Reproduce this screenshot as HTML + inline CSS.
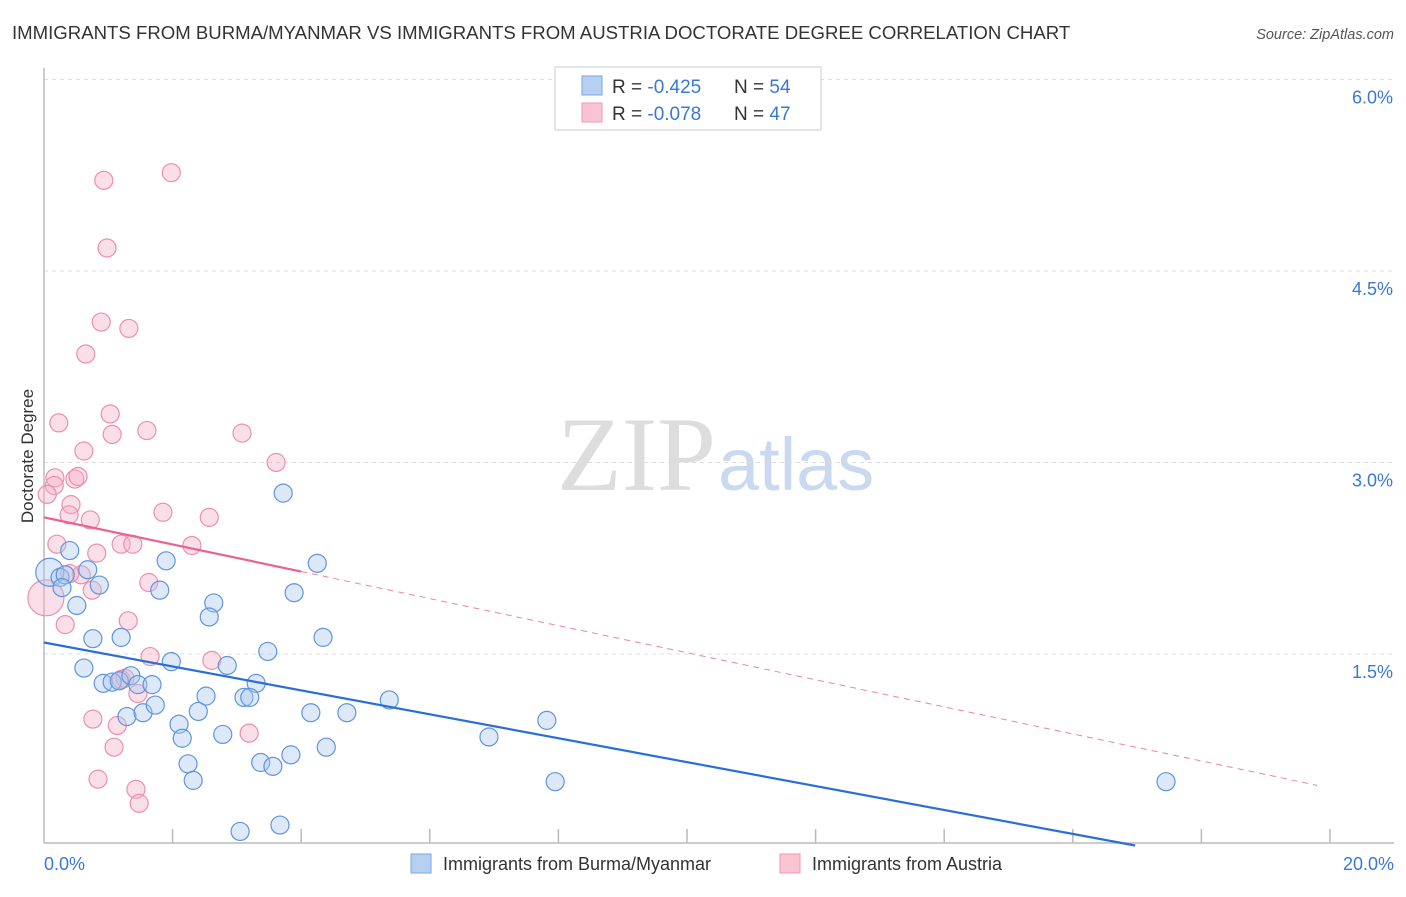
<!DOCTYPE html>
<html><head><meta charset="utf-8"><style>
body{margin:0;background:#fff;font-family:"Liberation Sans",sans-serif}
</style></head><body>
<svg width="1406" height="892" xmlns="http://www.w3.org/2000/svg">
<text x="12" y="39" font-size="18.6" fill="#333">IMMIGRANTS FROM BURMA/MYANMAR VS IMMIGRANTS FROM AUSTRIA DOCTORATE DEGREE CORRELATION CHART</text>
<text x="1394" y="39" font-size="14.5" fill="#555" font-style="italic" text-anchor="end">Source: ZipAtlas.com</text>
<text x="716" y="490" font-size="106" fill="#ddd" font-family="Liberation Serif" text-anchor="end">ZIP</text>
<text x="718" y="490" font-size="74" fill="#c9d9ef">atlas</text>
<g id="grid"></g>
<line x1="44" y1="68" x2="44" y2="843" stroke="#bbb" stroke-width="1.5"/>
<line x1="44" y1="843" x2="1394" y2="843" stroke="#bbb" stroke-width="1.5"/>
<g id="ticks"></g>
<text transform="translate(33,456) rotate(-90)" font-size="17" fill="#333" text-anchor="middle">Doctorate Degree</text>
<g id="pts"></g>
<g id="lines"></g>
<g>
<rect x="555" y="67" width="266" height="63" fill="#fff" stroke="#ccc"/>
<rect x="582" y="76" width="20" height="19" fill="#b5d0f3" stroke="#7aa7e2"/>
<rect x="582" y="103" width="20" height="19" fill="#f9c3d3" stroke="#ec9ab5"/>
<text x="612" y="93" font-size="19" fill="#333">R = <tspan fill="#3a78d4">-0.425</tspan></text>
<text x="734" y="93" font-size="19" fill="#333">N = <tspan fill="#3a78d4">54</tspan></text>
<text x="612" y="120" font-size="19" fill="#333">R = <tspan fill="#3a78d4">-0.078</tspan></text>
<text x="734" y="120" font-size="19" fill="#333">N = <tspan fill="#3a78d4">47</tspan></text>
</g>
<g>
<rect x="411" y="854" width="20" height="19" fill="#b5d0f3" stroke="#7aa7e2"/>
<text x="443" y="870" font-size="18" fill="#333">Immigrants from Burma/Myanmar</text>
<rect x="780" y="854" width="20" height="19" fill="#f9c3d3" stroke="#ec9ab5"/>
<text x="812" y="870" font-size="18" fill="#333">Immigrants from Austria</text>
</g>
</svg>
<script>
const blueX=[0.09,0.25,0.33,0.40,0.28,0.68,0.86,0.51,1.90,1.80,2.64,2.57,3.72,4.25,3.89,4.34,0.76,1.20,0.62,0.92,1.06,1.17,1.35,1.46,1.68,1.98,2.85,3.48,3.30,2.52,3.11,3.20,1.29,1.54,1.73,2.40,2.10,2.15,2.78,4.15,4.71,5.37,2.24,2.32,3.37,3.56,3.84,4.39,6.92,7.82,7.95,17.45,3.05,3.67];
const blueY=[2.14,2.10,2.12,2.31,2.02,2.16,2.04,1.88,2.23,2.00,1.90,1.79,2.76,2.21,1.98,1.63,1.62,1.63,1.39,1.27,1.28,1.29,1.33,1.26,1.26,1.44,1.41,1.52,1.27,1.17,1.16,1.16,1.01,1.04,1.10,1.05,0.95,0.84,0.87,1.04,1.04,1.14,0.64,0.51,0.65,0.62,0.71,0.77,0.85,0.98,0.50,0.50,0.11,0.16];
const pinkX=[0.93,1.98,0.98,0.89,1.32,0.65,0.23,1.03,1.06,1.60,3.08,0.62,3.61,0.17,0.16,0.48,0.53,0.42,0.39,0.72,0.05,1.85,2.57,0.20,0.82,1.20,1.38,2.30,0.58,0.40,1.63,0.75,0.03,0.33,1.31,1.65,2.61,1.20,1.26,1.46,0.76,1.14,1.09,3.19,0.84,1.43,1.48];
const pinkY=[5.21,5.27,4.68,4.10,4.05,3.85,3.31,3.38,3.22,3.25,3.23,3.09,3.00,2.88,2.82,2.87,2.89,2.67,2.59,2.55,2.75,2.61,2.57,2.36,2.29,2.36,2.36,2.35,2.12,2.13,2.06,2.00,1.94,1.73,1.76,1.48,1.45,1.30,1.31,1.19,0.99,0.94,0.77,0.88,0.52,0.44,0.33];
const blueTrend=[1.59,-0.0937];
const pinkTrend=[2.57,-0.106];
const yTicks=[1.5,3.0,4.5,6.0];
const xTickLabels=["0.0%","20.0%"];
const NS="http://www.w3.org/2000/svg";
const X=v=>44+v*64.3, Y=v=>845.5-v*127.67;
function mk(t,a,p){const e=document.createElementNS(NS,t);for(const k in a)e.setAttribute(k,a[k]);p.appendChild(e);return e;}
const grid=document.getElementById('grid'),ticks=document.getElementById('ticks');
yTicks.forEach(t=>{
 const l=mk('line',{x1:44,x2:1394,y1:Y(t),y2:Y(t),stroke:'#ddd','stroke-dasharray':'4,4'},grid);
 
 
 const tx=mk('text',{x:1393,y:Y(t)+24,'font-size':18,fill:'#3a78d4','text-anchor':'end'},ticks);
 tx.textContent=t.toFixed(1)+'%';
 
 
});
for(let i=1;i<=10;i++){
 const l=mk('line',{x1:X(i*2),x2:X(i*2),y1:829,y2:843,stroke:'#bbb','stroke-width':1.5},ticks);
 
 
}
[[0,'start',44],[20,'end',1394]].forEach((d,i)=>{
 const tx=mk('text',{x:d[2],y:870,'font-size':18,fill:'#3a78d4','text-anchor':d[1]},ticks);
 tx.textContent=xTickLabels[i];
 
 
});
const pts=document.getElementById('pts');
function dots(xs,ys,fill,stroke,name,big){
 xs.forEach((x,i)=>{
  const r=(i===big)?(name==='pink-point'?18:14):9;
  const c=mk('circle',{cx:X(x),cy:Y(ys[i]),r:r,fill:fill,'fill-opacity':0.4,stroke:stroke,'stroke-width':1.2},pts);
  
  
 });
}
dots(pinkX,pinkY,'#f6aec5','#ec8fae','pink-point',32);
dots(blueX,blueY,'#a9c8f1','#5f95dd','blue-point',0);
const lines=document.getElementById('lines');
function tl(tr,x1,x2,col,w,dash,name){
 const a={x1:X(x1),y1:Y(tr[0]+tr[1]*x1),x2:X(x2),y2:Y(tr[0]+tr[1]*x2),stroke:col,'stroke-width':w};
 if(dash)a['stroke-dasharray']=dash;
 const l=mk('line',a,lines);
 
 
}
tl(blueTrend,0,-blueTrend[0]/blueTrend[1],'#2b6fd6',2.2,null,'blue-trend-line');
tl(pinkTrend,0,4.0,'#e8648e',2.2,null,'pink-trend-line');
tl(pinkTrend,4.0,19.8,'#e8869f',1,'6,5','pink-trend-extension');
</script>
</body></html>
